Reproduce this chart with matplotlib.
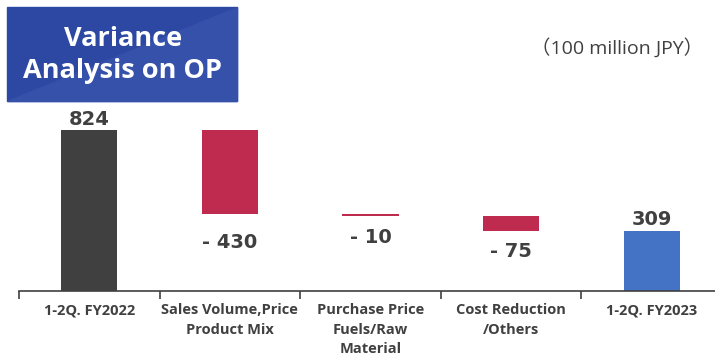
import numpy as np
import matplotlib.pyplot as plt
from matplotlib.patches import Rectangle, Polygon

# data (100 million JPY)
categories = ["1-2Q. FY2022", "Sales Volume,Price\nProduct Mix", "Purchase Price\nFuels/Raw\nMaterial",
              "Cost Reduction\n/Others", "1-2Q. FY2023"]
start_value = 824
deltas = [-430, -10, -75]
end_value = 309

dark = "#404040"
red = "#BE2B4E"
blue = "#4472C4"
plt.rcParams['font.family'] = ['Open Sans', 'Noto Sans CJK JP', 'DejaVu Sans']
num_font = dict(family="DejaVu Sans", fontsize=14, fontweight="bold", color=dark)

fig = plt.figure(figsize=(7.15, 3.56), dpi=100)
ax = fig.add_axes([19 / 715, 65 / 356, 703 / 715, 291 / 356])

x = np.arange(len(categories))
w = 0.4

# totals
ax.bar(x[0], start_value, width=w, color=dark)
ax.bar(x[-1], end_value, width=w, color=blue)

# deltas, labels sit a bit below each floating bar
label_gap = [-14, -9, -8]
cum = start_value
for i, d in enumerate(deltas, start=1):
    bottom = cum + d
    ax.bar(x[i], -d, bottom=bottom, width=w, color=red)
    ax.annotate(f"- {abs(d)}", (x[i], bottom), xytext=(0, label_gap[i - 1]),
                textcoords="offset points", ha="center", va="top", **num_font)
    cum = bottom

for xi, v in [(x[0], start_value), (x[-1], end_value)]:
    ax.annotate(f"{v}", (xi, v), xytext=(0, 1), textcoords="offset points",
                ha="center", va="bottom", **num_font)

ax.set_xlim(-0.5, len(categories) - 0.5)
ax.set_ylim(0, 1489)

# ticks at category boundaries, labels at centers
ax.set_xticks(np.arange(-0.5, len(categories), 1.0))
ax.set_xticklabels([])
ax.tick_params(axis="x", which="major", length=6, width=1.2, color=dark, direction="out")
ax.set_xticks(x, minor=True)
ax.set_xticklabels(categories, minor=True, fontsize=10.5, fontweight="bold", color=dark,
                   linespacing=1.48)
ax.tick_params(axis="x", which="minor", length=0, pad=9)
ax.set_yticks([])
for s in ["top", "right", "left"]:
    ax.spines[s].set_visible(False)
ax.spines["bottom"].set_color(dark)
ax.spines["bottom"].set_linewidth(1.2)

# title box with a faint diagonal sheen
bx, by, bw, bh = 7 / 715, 255 / 356, 230 / 715, 94 / 356
fig.patches.append(Rectangle((bx, by), bw, bh, transform=fig.transFigure,
                             color="#2C48A3", zorder=5))
fig.patches.append(Polygon([(bx, by), (bx + bw, by), (bx + bw, by + bh)], closed=True,
                           transform=fig.transFigure, color="#3551AA", zorder=5))
fig.text(123 / 715, 1 - 55 / 356, "Variance\nAnalysis on OP", ha="center", va="center",
         color="white", fontsize=19.5, fontweight="bold", linespacing=1.3, zorder=6)

fig.text(617 / 715, 1 - 48 / 356, "（100 million JPY）", ha="center", va="center",
         color="#404040", fontsize=14)

fig.savefig("out.png", dpi=100)
